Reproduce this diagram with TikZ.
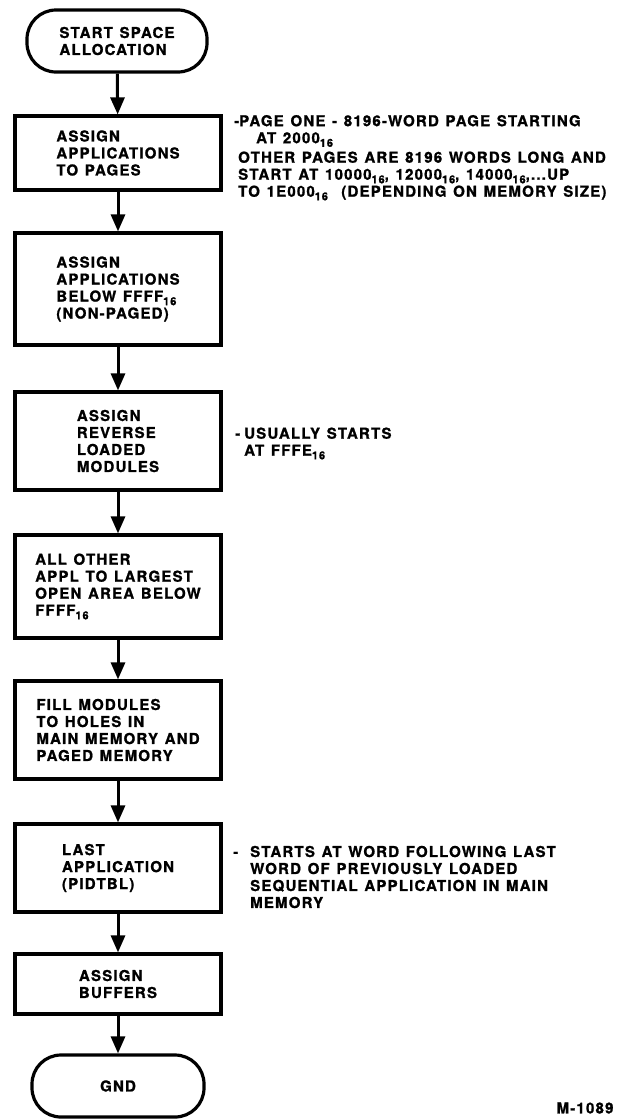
\documentclass[tikz,border=0pt]{standalone}
\usepackage{fontspec}
\setmainfont{TeX Gyre Heros}[LetterSpace=8,WordSpace=1.25,BoldFeatures={FakeBold=1.2}]
\usetikzlibrary{arrows.meta}

% hexadecimal radix written as a lowered subscript
\newcommand{\hx}[1]{\raisebox{-0.45ex}{\fontsize{11}{11}\selectfont #1}}

\begin{document}
\begin{tikzpicture}[x=1pt,y=-1pt,
  lbl/.style={font=\fontsize{15}{17}\selectfont\bfseries, inner sep=0pt},
  stepbox/.style={draw, line width=3.2pt, rectangle, minimum width=206pt,
                  align=left, font=\fontsize{15}{17}\selectfont\bfseries, inner sep=0pt},
  termbox/.style={draw, line width=3.2pt, rectangle, rounded corners=29pt,
                  align=left, font=\fontsize{15}{17}\selectfont\bfseries, inner sep=0pt},
  note/.style={lbl, align=left, anchor=west},
  flow/.style={line width=3pt, -{Triangle[width=14pt,length=17pt]}}
]
\useasboundingbox (0,0) rectangle (625,1119);

% process chain
\node[termbox, minimum width=180pt, minimum height=62pt] (start) at (117,41)
  {START SPACE\\ALLOCATION};
\node[stepbox, minimum height=74pt] (b1) at (118,153)
  {ASSIGN\\APPLICATIONS\\TO PAGES};
\node[stepbox, minimum height=112pt] (b2) at (118,289)
  {ASSIGN\\APPLICATIONS\\BELOW FFFF\hx{16}\\(NON-PAGED)};
\node[stepbox, minimum height=98pt] (b3) at (118,441)
  {ASSIGN\\REVERSE\\LOADED\\MODULES};
\node[stepbox, minimum height=103pt] (b4) at (118,586.5)
  {ALL OTHER\\APPL TO LARGEST\\OPEN AREA BELOW\\FFFF\hx{16}};
\node[stepbox, minimum height=98pt] (b5) at (118,730)
  {FILL MODULES\\TO HOLES IN\\MAIN MEMORY AND\\PAGED MEMORY};
\node[stepbox, minimum height=88pt] (b6) at (118,868)
  {LAST\\APPLICATION\\(PIDTBL)};
\node[stepbox, minimum height=60pt] (b7) at (118,984)
  {ASSIGN\\BUFFERS};
\node[termbox, minimum width=172pt, minimum height=62pt] (gnd) at (118,1086)
  {GND};

\draw[flow] (start) -- (b1);
\draw[flow] (b1) -- (b2);
\draw[flow] (b2) -- (b3);
\draw[flow] (b3) -- (b4);
\draw[flow] (b4) -- (b5);
\draw[flow] (b5) -- (b6);
\draw[flow] (b6) -- (b7);
\draw[flow] (b7) -- (gnd);

% side remarks
\node[note] (n1a) at (239,131)
  {\llap{-}PAGE ONE - 8196-WORD PAGE STARTING\\\hspace*{17pt}AT 2000\hx{16}};
\node[note] (n1b) at (238,176)
  {OTHER PAGES ARE 8196 WORDS LONG AND\\
   START AT 10000\hx{16}, 12000\hx{16}, 14000\hx{16},...UP\\
   TO 1E000\hx{16}\ \ (DEPENDING ON MEMORY SIZE)};
\node[note] (n2) at (244,443.5)
  {\llap{-\hspace{4pt}}USUALLY STARTS\\AT FFFE\hx{16}};
\node[note] (n3) at (250,877)
  {\llap{-\hspace{12pt}}STARTS AT WORD FOLLOWING LAST\\
   WORD OF PREVIOUSLY LOADED\\
   SEQUENTIAL APPLICATION IN MAIN\\
   MEMORY};
\node[lbl] (ref) at (585,1108) {M-1089};
\end{tikzpicture}
\end{document}
